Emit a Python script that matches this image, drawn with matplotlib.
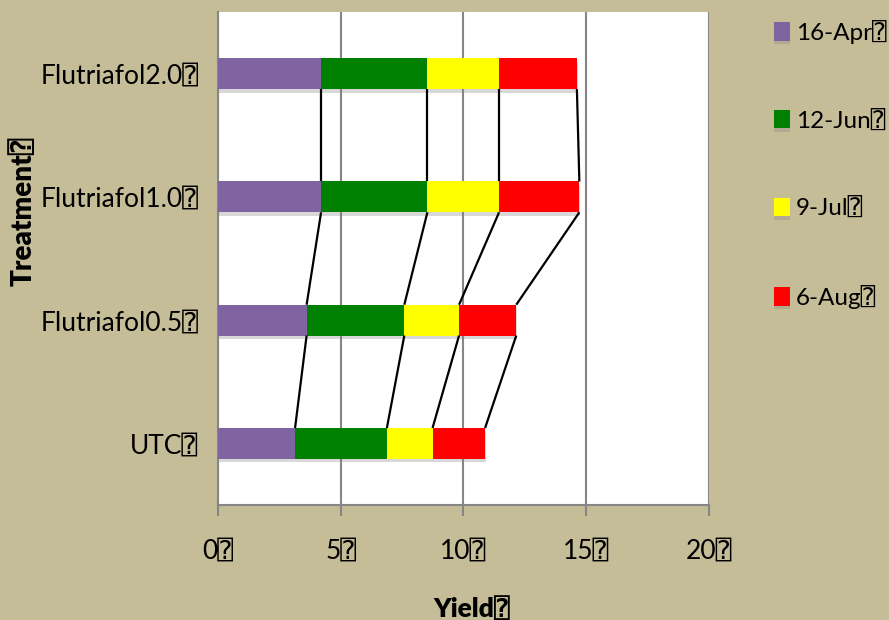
import matplotlib

matplotlib.use("Agg")
import matplotlib.pyplot as plt
import matplotlib.patheffects as pe
import matplotlib.transforms as mtransforms
import numpy as np

# stacked yield per treatment, one list per assessment date
categories = ["UTC", "Flutriafol0.5", "Flutriafol1.0", "Flutriafol2.0"]
dates = ["16-Apr", "12-Jun", "9-Jul", "6-Aug"]
apr16 = [3.14, 3.61, 4.20, 4.20]
jun12 = [3.74, 3.98, 4.33, 4.33]
jul9 = [1.86, 2.23, 2.92, 2.92]
aug6 = [2.14, 2.33, 3.27, 3.17]
x_ticks = [0, 5, 10, 15, 20]

COLORS = ["#8064A2", "#008000", "#FFFF00", "#FF0000"]
BG = "#C4BD97"
GRID = "#868686"
BOX = "\u2370"  # unrendered trailing char shown as a boxed question mark

plt.rcParams["font.family"] = ["Lato", "DejaVu Sans", "DejaVu Sans Mono"]


def main() -> None:
    fig = plt.figure(figsize=(8.89, 6.2), dpi=100, facecolor=BG)
    ax = fig.add_axes([0.2452, 0.1855, 0.7975 - 0.2452, 0.9806 - 0.1855])
    ax.set_facecolor("white")

    series = [apr16, jun12, jul9, aug6]
    y = np.arange(len(categories))
    height = 0.25
    left = np.zeros(len(categories))
    ends = []
    shadow = [pe.SimplePatchShadow(offset=(0.5, -2.5), shadow_rgbFace="#808080", alpha=0.3), pe.Normal()]
    for vals, color, label in zip(series, COLORS, dates):
        vals = np.asarray(vals)
        bars = ax.barh(y, vals, left=left, height=height, color=color, label=label + BOX, zorder=3)
        for b in bars:
            b.set_path_effects(shadow)
        left = left + vals
        ends.append(left.copy())

    # series lines joining the segment ends of neighbouring bars
    for cum in ends:
        for i in range(len(categories) - 1):
            ax.plot(
                [cum[i], cum[i + 1]],
                [y[i] + height / 2, y[i + 1] - height / 2],
                color="black",
                linewidth=1.6,
                zorder=4,
                solid_capstyle="butt",
            )

    ax.set_xlim(0, 20)
    ax.set_ylim(-0.5, 3.5)
    ax.set_xticks(x_ticks)
    ax.set_xticklabels([f"{t}{BOX}" for t in x_ticks], fontsize=19)
    shift = mtransforms.ScaledTranslation(8 / 100, 0, fig.dpi_scale_trans)
    for lab in ax.get_xticklabels():
        lab.set_transform(lab.get_transform() + shift)
    ax.set_yticks(y)
    ax.set_yticklabels([c + BOX for c in categories], fontsize=19)
    ax.tick_params(axis="x", length=8, width=1.5, color=GRID, pad=16)
    ax.tick_params(axis="y", length=0, pad=14)
    ax.xaxis.grid(True, color=GRID, linewidth=1.5, zorder=0)
    ax.set_axisbelow(True)
    for side in ("top", "right"):
        ax.spines[side].set_visible(False)
    for side in ("left", "bottom"):
        ax.spines[side].set_color(GRID)
        ax.spines[side].set_linewidth(1.5)

    fig.text(472 / 889, 1 - 609 / 620, "Yield" + BOX, fontsize=19, fontweight="heavy", ha="center", va="center")
    fig.text(23 / 889, 1 - 211 / 620, "Treatment" + BOX, fontsize=20, fontweight="heavy",
             rotation=90, ha="center", va="center")

    fig.legend(
        loc="upper left",
        bbox_to_anchor=(764 / 889, 1 - 10 / 620),
        frameon=False,
        fontsize=17.5,
        handlelength=0.65,
        handleheight=0.8,
        handletextpad=0.25,
        labelspacing=2.7,
        borderaxespad=0,
    )

    fig.savefig("out.png", dpi=100, facecolor=BG)
    plt.close(fig)


if __name__ == "__main__":
    main()
